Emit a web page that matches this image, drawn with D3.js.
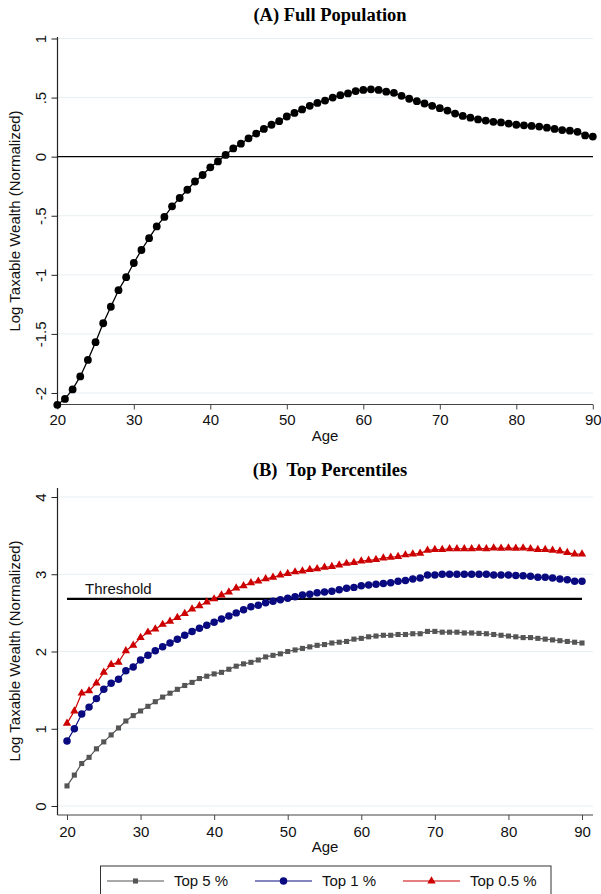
<!DOCTYPE html>
<html>
<head>
<meta charset="utf-8">
<script src="https://cdn.jsdelivr.net/npm/d3@7"></script>
<style>
  body { margin: 0; background: #fff; }
  svg { display: block; font-family: "Liberation Sans", Arial, sans-serif; }
</style>
</head>
<body>
<div id="chart"></div>
<script>
// --- data ---
const ages = [20,21,22,23,24,25,26,27,28,29,30,31,32,33,34,35,36,37,38,39,40,41,42,43,44,45,46,47,48,49,50,
  51,52,53,54,55,56,57,58,59,60,61,62,63,64,65,66,67,68,69,70,71,72,73,74,75,76,77,78,79,80,
  81,82,83,84,85,86,87,88,89,90];

const fullPop = [-2.10,-2.05,-1.97,-1.86,-1.72,-1.57,-1.41,-1.27,-1.13,-1.02,-0.90,-0.79,-0.69,-0.59,-0.51,-0.42,
  -0.35,-0.28,-0.21,-0.155,-0.09,-0.04,0.015,0.07,0.11,0.155,0.195,0.235,0.27,0.30,0.34,0.37,0.40,0.43,0.455,
  0.475,0.50,0.52,0.535,0.555,0.565,0.57,0.565,0.55,0.54,0.515,0.49,0.47,0.45,0.43,0.41,0.39,0.365,0.345,0.33,
  0.315,0.305,0.295,0.29,0.28,0.27,0.265,0.26,0.255,0.245,0.235,0.225,0.22,0.21,0.18,0.17];

const top5 = [0.26,0.40,0.55,0.63,0.74,0.83,0.92,1.01,1.10,1.17,1.23,1.29,1.35,1.41,1.46,1.51,1.56,1.60,1.65,1.68,
  1.71,1.73,1.77,1.81,1.84,1.86,1.89,1.93,1.95,1.97,2.00,2.02,2.04,2.06,2.08,2.09,2.11,2.12,2.13,2.16,2.17,2.19,
  2.20,2.21,2.21,2.22,2.22,2.23,2.23,2.26,2.26,2.25,2.25,2.25,2.24,2.24,2.235,2.23,2.22,2.21,2.20,2.19,2.18,2.18,
  2.17,2.16,2.15,2.14,2.13,2.12,2.11];

const top1 = [0.84,1.00,1.19,1.28,1.39,1.51,1.59,1.64,1.75,1.80,1.89,1.95,2.01,2.06,2.11,2.16,2.21,2.26,2.30,2.34,
  2.38,2.42,2.46,2.50,2.54,2.58,2.60,2.63,2.65,2.67,2.69,2.71,2.73,2.74,2.76,2.77,2.78,2.80,2.82,2.83,2.85,2.86,
  2.87,2.88,2.89,2.91,2.92,2.94,2.95,2.99,2.99,3.00,3.00,3.00,3.00,3.00,3.00,3.00,2.99,2.99,2.99,2.985,2.98,2.975,
  2.96,2.96,2.95,2.94,2.93,2.91,2.91];

const top05 = [1.07,1.23,1.46,1.49,1.59,1.73,1.83,1.86,2.01,2.08,2.18,2.25,2.29,2.35,2.39,2.44,2.49,2.55,2.59,2.64,
  2.68,2.73,2.77,2.82,2.85,2.89,2.91,2.94,2.96,2.99,3.01,3.03,3.04,3.06,3.07,3.09,3.10,3.12,3.14,3.15,3.17,3.18,
  3.19,3.21,3.22,3.23,3.25,3.26,3.27,3.31,3.32,3.32,3.33,3.33,3.33,3.33,3.335,3.33,3.34,3.335,3.34,3.335,3.34,3.33,
  3.32,3.32,3.31,3.30,3.28,3.26,3.26];

const threshold = 2.68;
const xTicks = [20, 30, 40, 50, 60, 70, 80, 90];
const yTicksA = [-2, -1.5, -1, -0.5, 0, 0.5, 1];
const yTicksB = [0, 1, 2, 3, 4];
const seriesNames = ["Top 5 %", "Top 1 %", "Top 0.5 %"];

// --- setup ---
const W = 601, H = 894;
const gridColor = "#e8eff2";
const styles = [
  { values: top5,  color: "#555555", symbol: d3.symbolSquare,   size: 26 },
  { values: top1,  color: "#0a0a80", symbol: d3.symbolCircle,   size: 44 },
  { values: top05, color: "#cc0000", symbol: d3.symbolTriangle, size: 30 }
];

const svg = d3.select("#chart").append("svg")
  .attr("width", W).attr("height", H);
svg.append("rect").attr("width", W).attr("height", H).attr("fill", "#fff");

const fmt = v => String(v).replace(/^0\./, ".").replace(/^-0\./, "-.");

function drawAxes(xs, ys, yTicks, gridTicks, axisX, axisY, yTop, xRight, xLabelY, ageY) {
  // gridlines
  svg.append("g").selectAll("line").data(gridTicks).join("line")
    .attr("x1", axisX).attr("x2", xRight)
    .attr("y1", d => ys(d)).attr("y2", d => ys(d))
    .attr("stroke", gridColor).attr("stroke-width", 1);

  // y axis
  const ya = svg.append("g").attr("transform", `translate(${axisX},0)`)
    .call(d3.axisLeft(ys).tickValues(yTicks).tickSize(6).tickFormat(fmt));
  ya.select(".domain").remove();
  ya.selectAll("line").attr("stroke", "#222");
  ya.selectAll("text")
    .attr("x", null).attr("dy", null)
    .attr("transform", "translate(-12,0) rotate(-90)")
    .attr("text-anchor", "middle")
    .attr("font-size", 15).attr("fill", "#111")
    .attr("font-family", "Liberation Sans, Arial, sans-serif");
  svg.append("line").attr("x1", axisX).attr("x2", axisX)
    .attr("y1", yTop).attr("y2", axisY).attr("stroke", "#222").attr("stroke-width", 1.2);

  // x axis
  const xa = svg.append("g").attr("transform", `translate(0,${axisY})`)
    .call(d3.axisBottom(xs).tickValues(xTicks).tickSize(5).tickFormat(d3.format("d")));
  xa.select(".domain").remove();
  xa.selectAll("line").attr("stroke", "#444");
  xa.selectAll("text")
    .attr("y", xLabelY).attr("dy", 0)
    .attr("font-size", 15).attr("fill", "#111")
    .attr("font-family", "Liberation Sans, Arial, sans-serif");
  svg.append("line").attr("x1", axisX).attr("x2", xRight)
    .attr("y1", axisY).attr("y2", axisY).attr("stroke", "#444").attr("stroke-width", 1.2);

  svg.append("text").attr("x", 325).attr("y", ageY)
    .attr("text-anchor", "middle").attr("font-size", 15).attr("fill", "#111")
    .text("Age");
}

function yTitle(cy) {
  svg.append("text")
    .attr("transform", `translate(20,${cy}) rotate(-90)`)
    .attr("text-anchor", "middle").attr("font-size", 15).attr("fill", "#111")
    .text("Log Taxable Wealth (Normalized)");
}

function panelTitle(txt, y) {
  svg.append("text").attr("x", 330).attr("y", y)
    .attr("text-anchor", "middle")
    .attr("font-family", "Liberation Serif, Times New Roman, serif")
    .attr("font-weight", "bold").attr("font-size", 18.5)
    .style("white-space", "pre")
    .text(txt);
}

// --- Panel A ---
const xA = d3.scaleLinear().domain([20, 90]).range([57.3, 592.8]);
const yA = d3.scaleLinear().domain([-2.1, 1]).range([404.8, 38.5]);

panelTitle("(A) Full Population", 21);
drawAxes(xA, yA, yTicksA, yTicksA.filter(d => d !== 0), 57.5, 404.5, 37, 593, 20.5, 441);
yTitle(221);

svg.append("line").attr("x1", 57.5).attr("x2", 593)
  .attr("y1", yA(0)).attr("y2", yA(0)).attr("stroke", "#000").attr("stroke-width", 1.2);

const lineA = d3.line().x((d, i) => xA(ages[i])).y(d => yA(d));
svg.append("path").datum(fullPop).attr("d", lineA)
  .attr("fill", "none").attr("stroke", "#000").attr("stroke-width", 1.3);
svg.append("g").selectAll("circle").data(fullPop).join("circle")
  .attr("cx", (d, i) => xA(ages[i])).attr("cy", d => yA(d))
  .attr("r", 3.9).attr("fill", "#000");

// --- Panel B ---
const xB = d3.scaleLinear().domain([20, 90]).range([67, 582]);
const yB = d3.scaleLinear().domain([0, 4]).range([806, 497]);

panelTitle("(B)  Top Percentiles", 476);
drawAxes(xB, yB, yTicksB, yTicksB, 57.5, 815, 488, 593, 22, 852);
yTitle(651);

svg.append("line").attr("x1", xB(20)).attr("x2", xB(90))
  .attr("y1", yB(threshold)).attr("y2", yB(threshold))
  .attr("stroke", "#000").attr("stroke-width", 2.2);
svg.append("text").attr("x", 85).attr("y", yB(threshold) - 5)
  .attr("font-size", 15).attr("fill", "#111").text("Threshold");

styles.forEach(s => {
  const ln = d3.line().x((d, i) => xB(ages[i])).y(d => yB(d));
  svg.append("path").datum(s.values).attr("d", ln)
    .attr("fill", "none").attr("stroke", s.color).attr("stroke-width", 1.2);
  svg.append("g").selectAll("path").data(s.values).join("path")
    .attr("transform", (d, i) => `translate(${xB(ages[i])},${yB(d)})`)
    .attr("d", d3.symbol().type(s.symbol).size(s.size))
    .attr("fill", s.color);
});

// --- Legend ---
const leg = svg.append("g");
leg.append("rect").attr("x", 100.5).attr("y", 866).attr("width", 450.5).attr("height", 40)
  .attr("fill", "#fff").attr("stroke", "#333").attr("stroke-width", 1);
const legX = [107, 255, 403];
seriesNames.forEach((name, k) => {
  const s = styles[k];
  const x0 = legX[k];
  leg.append("line").attr("x1", x0).attr("x2", x0 + 57).attr("y1", 881).attr("y2", 881)
    .attr("stroke", s.color).attr("stroke-width", 1.2);
  leg.append("path").attr("transform", `translate(${x0 + 28.5},881)`)
    .attr("d", d3.symbol().type(s.symbol).size(s.size)).attr("fill", s.color);
  leg.append("text").attr("x", x0 + 67).attr("y", 886)
    .attr("font-size", 15).attr("fill", "#111").text(name);
});
</script>
</body>
</html>
